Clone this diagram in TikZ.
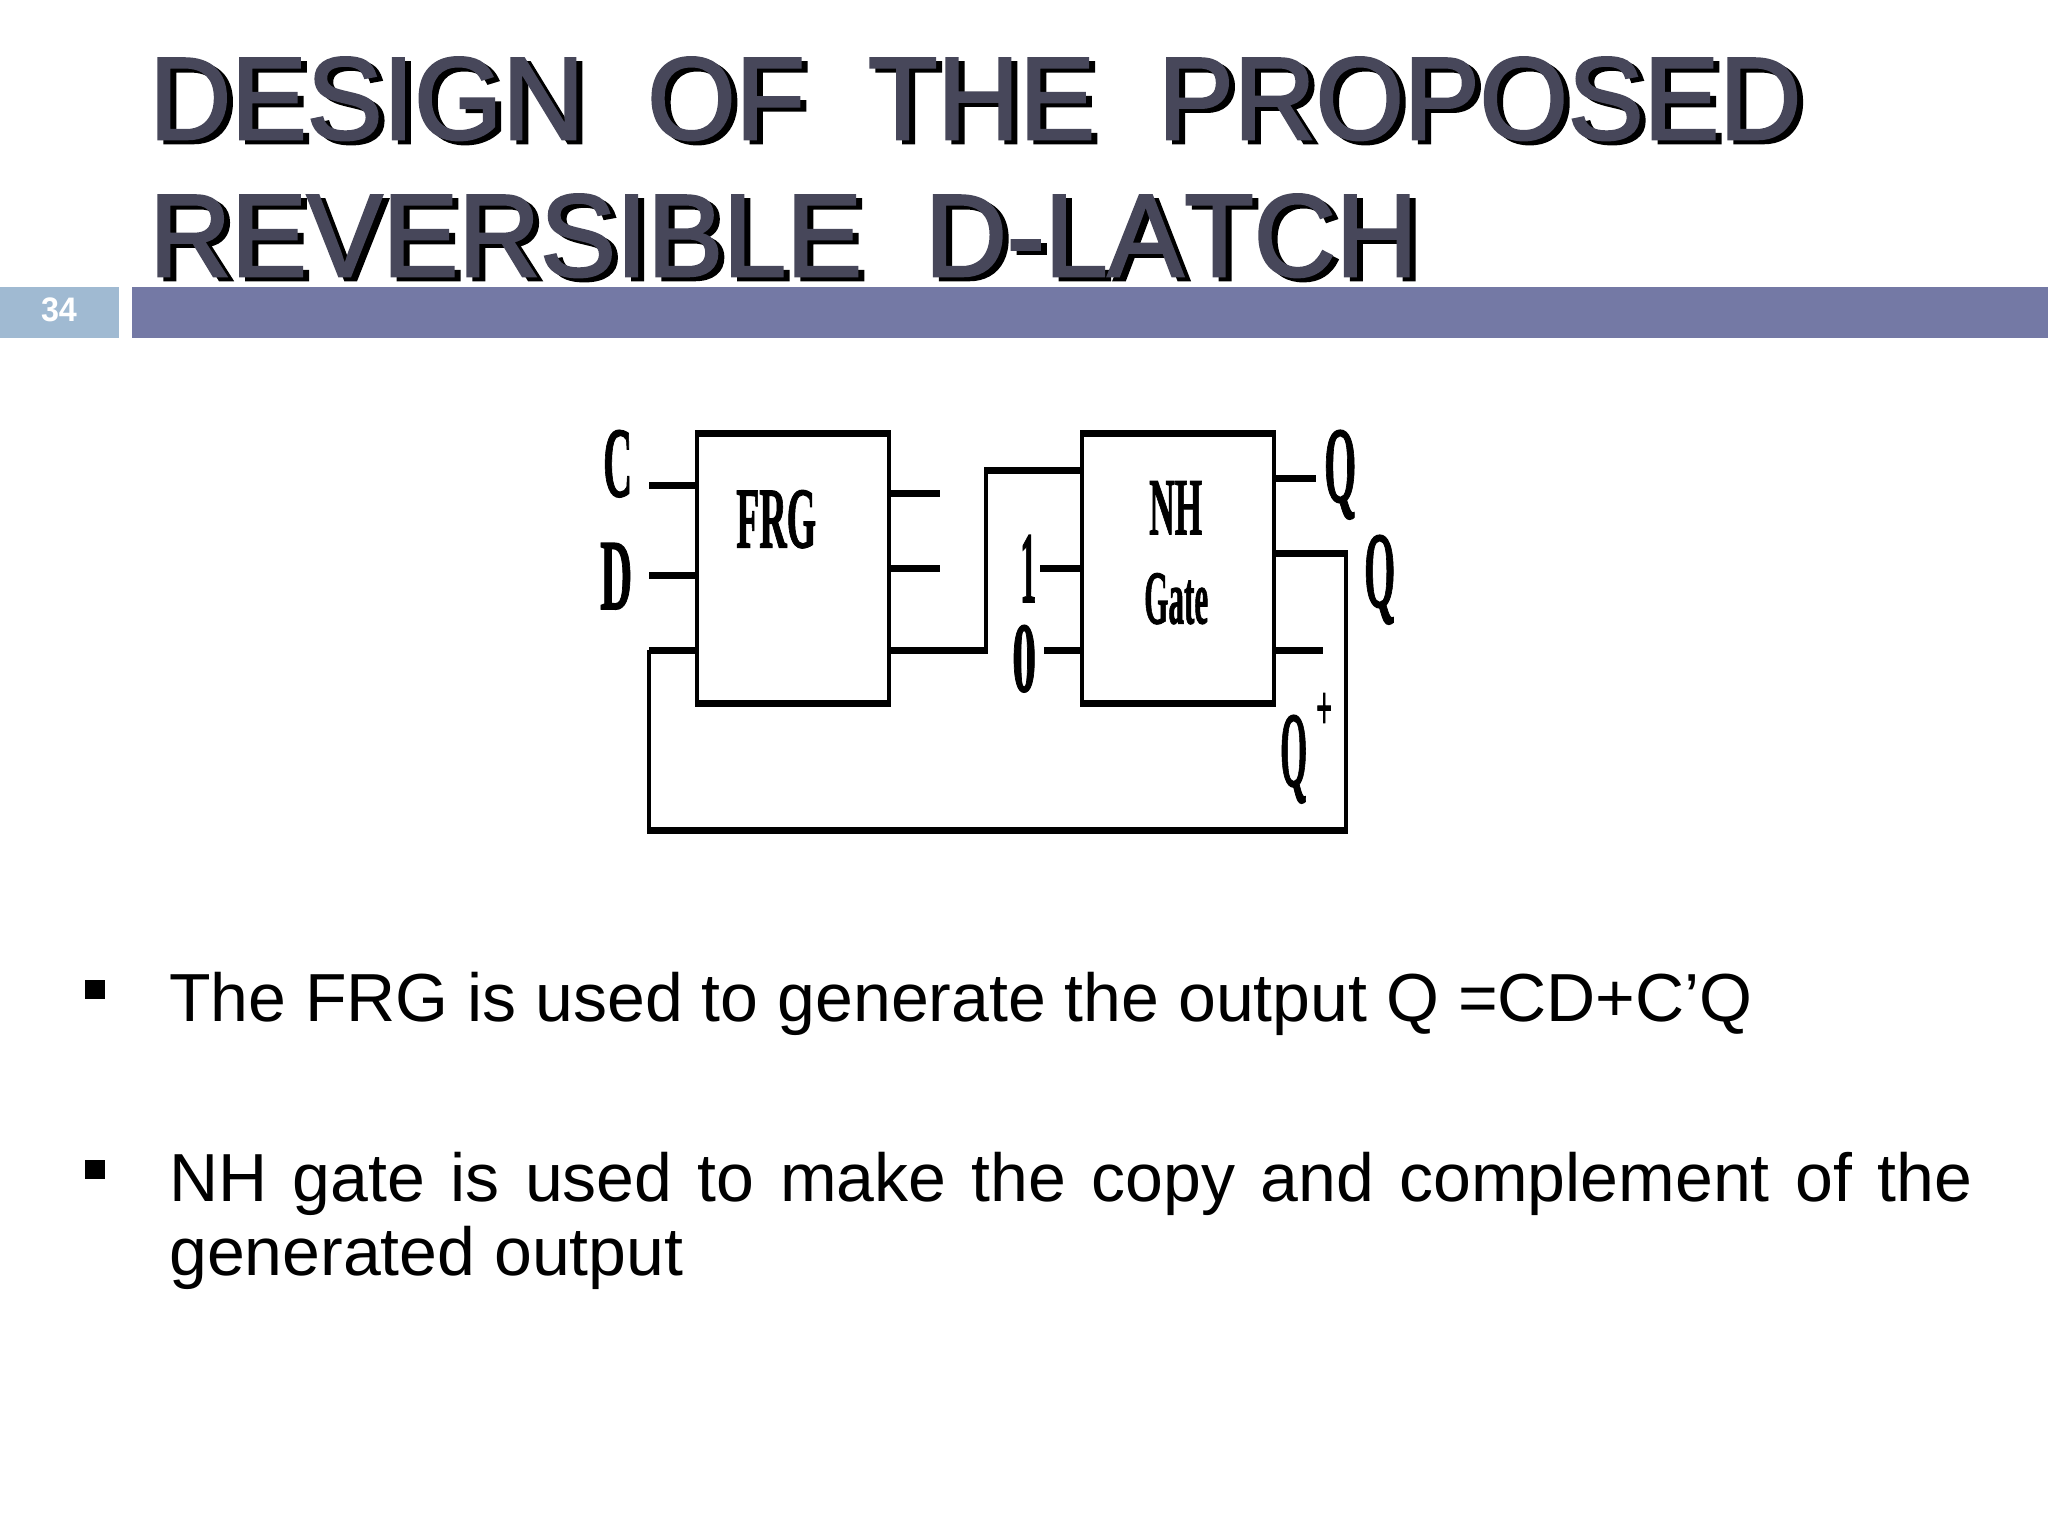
\documentclass[tikz,border=0pt]{standalone}
\usepackage{fontspec}
\setmainfont{Liberation Sans}
\newfontfamily\labfont[BoldFeatures={FakeBold=1.5}]{Liberation Serif}
\newfontfamily\titlefam[FakeBold=2.2]{Liberation Sans}
\definecolor{titlefg}{HTML}{47475A}
\definecolor{barblue}{HTML}{7479A5}
\definecolor{numblue}{HTML}{A0BAD2}
\newcommand{\glyphbox}[3]{\resizebox*{#1pt}{#2pt}{\labfont\bfseries #3}}
\newcommand{\titlefont}{\titlefam\fontsize{117}{117}\selectfont}
\newcommand{\bodyfont}{\fontsize{68}{74}\selectfont\hyphenpenalty=10000\exhyphenpenalty=10000 }
\tikzset{
  hwire/.style={line width=7pt,line cap=butt},
  vwire/.style={line width=3.6pt,line cap=butt},
  gatebox/.style={draw,line width=3.6pt,inner sep=0pt,outer sep=0pt,anchor=north west},
  glyph/.style={inner sep=0pt,anchor=north west},
  titletext/.style={inner sep=0pt,anchor=base west,font=\titlefont},
  bodytext/.style={inner sep=0pt,anchor=base west,font=\bodyfont},
  bulletmark/.style={fill=black,inner sep=0pt,minimum width=20pt,minimum height=19pt,anchor=north west},
}
\begin{document}
\begin{tikzpicture}[x=1pt,y=-1pt]
\useasboundingbox (0,0) rectangle (2048,1536);
\fill[white] (0,0) rectangle (2048,1536);
% header
\node[fill=numblue,inner sep=0pt,outer sep=0pt,minimum width=119pt,minimum height=51pt,anchor=north west] (numbox) at (0,287) {};
\node[fill=barblue,inner sep=0pt,outer sep=0pt,minimum width=1916pt,minimum height=51pt,anchor=north west] (bar) at (132,287) {};
\node[text=white,inner sep=0pt,font=\fontsize{34}{34}\selectfont\bfseries] (num) at (59,310) {\scalebox{0.95}[1]{34}};
% title
\node[titletext,text=black] (t1s) at (155,143) {\scalebox{0.97}[1]{DESIGN\ \ OF\ \ THE\ \ PROPOSED}};
\node[titletext,text=black] (t2s) at (155,280) {\scalebox{0.97}[1]{REVERSIBLE\ \ D-LA\kern1pt TCH}};
\node[titletext,text=titlefg] (t1) at (149,139) {\scalebox{0.97}[1]{DESIGN\ \ OF\ \ THE\ \ PROPOSED}};
\node[titletext,text=titlefg] (t2) at (149,276) {\scalebox{0.97}[1]{REVERSIBLE\ \ D-LA\kern1pt TCH}};
% gates
\node[gatebox,minimum width=192pt,minimum height=270pt] (frg) at (697,433) {};
\node[gatebox,minimum width=192pt,minimum height=270pt] (nh) at (1082,433) {};
\draw[hwire] ([xshift=-1.8pt]frg.north west) -- ([xshift=1.8pt]frg.north east);
\draw[hwire] ([xshift=-1.8pt]frg.south west) -- ([xshift=1.8pt]frg.south east);
\draw[hwire] ([xshift=-1.8pt]nh.north west) -- ([xshift=1.8pt]nh.north east);
\draw[hwire] ([xshift=-1.8pt]nh.south west) -- ([xshift=1.8pt]nh.south east);
% free ends
\coordinate (cin) at (649,485);
\coordinate (din) at (649,575);
\coordinate (fbl) at (649,650);
\coordinate (fbbl) at (649,830);
\coordinate (fbbr) at (1346,830);
\coordinate (fbtr) at (1346,553);
\coordinate (o1) at (940,493);
\coordinate (o2) at (940,568);
\coordinate (xa) at (986,650);
\coordinate (xb) at (986,470);
\coordinate (one) at (1040,568);
\coordinate (zero) at (1044,650);
\coordinate (q1) at (1316,478);
\coordinate (q3) at (1323,650);
% wires
\draw[hwire] (cin) -- (cin -| frg.west);
\draw[hwire] (din) -- (din -| frg.west);
\draw[hwire] (fbl) -- (fbl -| frg.west);
\draw[hwire] (o1 -| frg.east) -- (o1);
\draw[hwire] (o2 -| frg.east) -- (o2);
\draw[hwire] (xa -| frg.east) -- ([xshift=1.8pt]xa);
\draw[vwire] (xa) -- (xb);
\draw[hwire] ([xshift=-1.8pt]xb) -- (xb -| nh.west);
\draw[hwire] (one) -- (one -| nh.west);
\draw[hwire] (zero) -- (zero -| nh.west);
\draw[hwire] (q1 -| nh.east) -- (q1);
\draw[hwire] (q3 -| nh.east) -- (q3);
\draw[hwire] (fbtr -| nh.east) -- ([xshift=1.8pt]fbtr);
\draw[vwire] (fbtr) -- (fbbr);
\draw[hwire] ([xshift=1.8pt]fbbr) -- ([xshift=-1.8pt]fbbl);
\draw[vwire] (fbbl) -- (fbl);
% labels
\node[glyph] (lc) at (603,430) {\glyphbox{29}{67}{C}};
\node[glyph] (ld) at (600,543) {\glyphbox{32}{66}{D}};
\node[glyph] (lfrg) at (736,490) {\glyphbox{80}{58}{FRG}};
\node[glyph] (lnh) at (1149,481) {\glyphbox{53}{53}{NH}};
\node[glyph] (lgate) at (1144,573) {\glyphbox{64}{51}{Gate}};
\node[glyph] (lone) at (1020,535) {\glyphbox{16}{67}{1}};
\node[glyph] (lzero) at (1012,625) {\glyphbox{24}{67}{0}};
\node[glyph] (lq1) at (1324,430) {\glyphbox{32}{89}{Q}};
\node[glyph] (lq2) at (1364,535) {\glyphbox{31}{89}{Q}};
\node[glyph] (lq3) at (1280,715) {\glyphbox{27}{88}{Q}};
\node[glyph] (lplus) at (1316,693) {\glyphbox{16}{36}{+}};
% body
\node[bulletmark] (b1) at (85,980) {};
\node[bulletmark] (b2) at (85,1160) {};
\node[bodytext] (l1) at (169,1021) {The FRG is used to generate the output Q =CD+C’Q};
\node[inner sep=0pt,anchor=north west,text width=1803pt,align=justify,font=\bodyfont] (l2) at (169,1152) {NH gate is used to make the copy and complement of the generated output};
\end{tikzpicture}
\end{document}
